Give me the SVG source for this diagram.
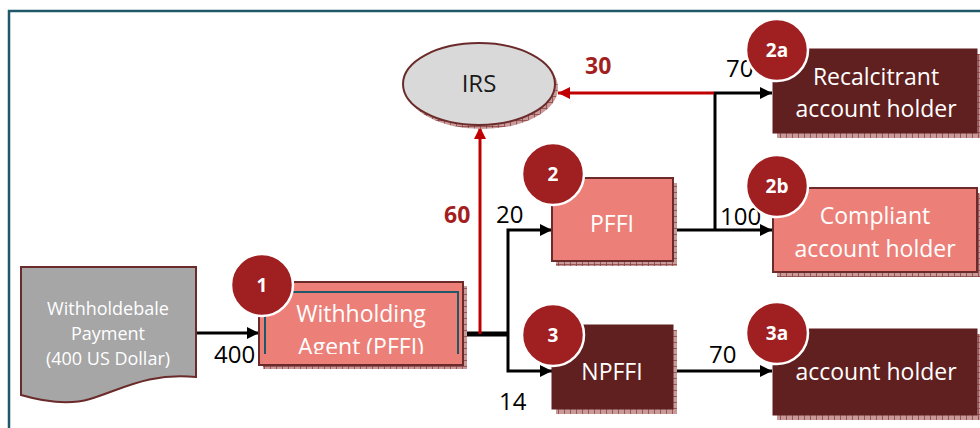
<svg xmlns="http://www.w3.org/2000/svg" width="980" height="428" viewBox="0 0 980 428">
<style>
.t{font-family:"Open Sans","Liberation Sans",sans-serif}
.lbl{font-family:"Open Sans","Liberation Sans",sans-serif;font-size:23px;fill:#ffffff;text-anchor:middle}
.num{font-family:"Open Sans","Liberation Sans",sans-serif;font-size:24px;fill:#000000}
.rnum{font-family:"Open Sans","Liberation Sans",sans-serif;font-size:23px;font-weight:bold;fill:#a31f1f}
.badge{fill:#a01f21;stroke:#ffffff;stroke-width:2.5}
.btxt{font-family:"Open Sans","Liberation Sans",sans-serif;font-size:19px;font-weight:bold;fill:#ffffff;text-anchor:middle}
.light{fill:#ec8079;stroke:#6b2b2b;stroke-width:2}
.dark{fill:#612020;stroke:#612020;stroke-width:1}
.shadow{fill:url(#hatch)}
.blk{fill:none;stroke:#000000;stroke-width:3}
.red{fill:none;stroke:#c00000;stroke-width:3}
</style>
<defs>
<pattern id="hatch" width="6" height="6" patternUnits="userSpaceOnUse">
<rect width="6" height="6" fill="#c99a9a"/>
<path d="M0,0.5H6M0.5,0V6" stroke="#8c4444" stroke-width="0.8"/>
</pattern>
<marker id="ab" viewBox="0 0 12 12" refX="12" refY="6" markerWidth="12" markerHeight="12" markerUnits="userSpaceOnUse" orient="auto">
<path d="M0,0L12,6L0,12Z" fill="#000000"/>
</marker>
<marker id="ar" viewBox="0 0 12 12" refX="12" refY="6" markerWidth="12" markerHeight="12" markerUnits="userSpaceOnUse" orient="auto">
<path d="M0,0L12,6L0,12Z" fill="#c00000"/>
</marker>
<clipPath id="waclip"><rect x="259" y="282" width="204" height="72"/></clipPath>
</defs>
<rect x="0" y="0" width="980" height="428" fill="#ffffff"/>
<rect id="frame" x="9" y="11" width="1000" height="450" fill="none" stroke="#1f5868" stroke-width="2.5"/>

<g id="connectors">
<line class="blk" x1="196" y1="333" x2="259" y2="333" marker-end="url(#ab)"/>
<text class="num" x="214" y="363">400</text>
<line x1="463" y1="334" x2="509" y2="334" stroke="#000" stroke-width="5"/>
<line class="red" x1="480" y1="334" x2="480" y2="127" marker-end="url(#ar)"/>
<text class="rnum" x="444" y="223">60</text>
<polyline class="blk" points="508,334 508,230 552,230" marker-end="url(#ab)"/>
<text class="num" x="496" y="223">20</text>
<polyline class="blk" points="508,334 508,371 552,371" marker-end="url(#ab)"/>
<text class="num" x="499" y="410">14</text>
<line class="blk" x1="673" y1="230" x2="772" y2="230" marker-end="url(#ab)"/>
<text class="num" x="720" y="225">100</text>
<polyline class="blk" points="715,230 715,93 772,93" marker-end="url(#ab)"/>
<text class="num" x="726" y="77">70</text>
<line class="red" x1="714" y1="93" x2="558" y2="93" marker-end="url(#ar)"/>
<text class="rnum" x="585" y="74">30</text>
<line class="blk" x1="673" y1="371" x2="772" y2="371" marker-end="url(#ab)"/>
<text class="num" x="709" y="363">70</text>
</g>

<g id="payment">
<path d="M21,267H196V377C150,372 120,390 90,399C70,405 45,402 21,395Z" fill="#a6a6a6" stroke="#6b2b2b" stroke-width="2"/>
<text class="t" x="108" y="315" font-size="18" fill="#ffffff" text-anchor="middle">Withholdebale</text>
<text class="t" x="108" y="340" font-size="18" fill="#ffffff" text-anchor="middle">Payment</text>
<text class="t" x="108" y="365" font-size="18" fill="#ffffff" text-anchor="middle">(400 US Dollar)</text>
</g>

<g id="irs">
<ellipse class="shadow" cx="482" cy="88" rx="76" ry="41"/>
<ellipse cx="479" cy="84" rx="76" ry="41" fill="#d9d9d9" stroke="#6b2b2b" stroke-width="2"/>
<text class="t" x="479" y="92" font-size="24" fill="#1a1a1a" text-anchor="middle">IRS</text>
</g>

<g id="withholding-agent">
<rect class="shadow" x="263" y="286" width="204" height="83"/>
<rect class="light" x="259" y="282" width="204" height="83"/>
<polyline points="265,354 265,292 458,292 458,354" fill="none" stroke="#1f5868" stroke-width="2"/>
<g clip-path="url(#waclip)">
<text class="lbl" x="361" y="322">Withholding</text>
<text class="lbl" x="361" y="355">Agent (PFFI)</text>
</g>
<circle class="badge" cx="262" cy="285" r="31"/>
<text class="btxt" x="262" y="292">1</text>
</g>

<g id="pffi">
<rect class="shadow" x="556" y="183" width="121" height="83"/>
<rect class="light" x="552" y="178" width="121" height="83"/>
<text class="lbl" x="612" y="232">PFFI</text>
<circle class="badge" cx="553" cy="174" r="31"/>
<text class="btxt" x="553" y="181">2</text>
</g>

<g id="npffi">
<rect class="shadow" x="556" y="330" width="121" height="84"/>
<rect class="dark" x="552" y="325" width="121" height="84"/>
<text class="lbl" x="612" y="380">NPFFI</text>
<circle class="badge" cx="553" cy="335" r="31"/>
<text class="btxt" x="553" y="342">3</text>
</g>

<g id="recalcitrant">
<rect class="shadow" x="777" y="54" width="204" height="84"/>
<rect class="dark" x="773" y="49" width="204" height="84"/>
<text class="lbl" x="876" y="85">Recalcitrant</text>
<text class="lbl" x="876" y="117">account holder</text>
<circle class="badge" cx="777" cy="50" r="31"/>
<text class="btxt" x="777" y="57">2a</text>
</g>

<g id="compliant">
<rect class="shadow" x="777" y="193" width="204" height="84"/>
<rect class="light" x="773" y="188" width="204" height="84"/>
<text class="lbl" x="875" y="224">Compliant</text>
<text class="lbl" x="875" y="257">account holder</text>
<circle class="badge" cx="777" cy="186" r="31"/>
<text class="btxt" x="777" y="193">2b</text>
</g>

<g id="npffi-holder">
<rect class="shadow" x="777" y="334" width="204" height="86"/>
<rect class="dark" x="773" y="329" width="204" height="86"/>
<text class="lbl" x="876" y="380">account holder</text>
<circle class="badge" cx="777" cy="333" r="31"/>
<text class="btxt" x="777" y="340">3a</text>
</g>
</svg>
